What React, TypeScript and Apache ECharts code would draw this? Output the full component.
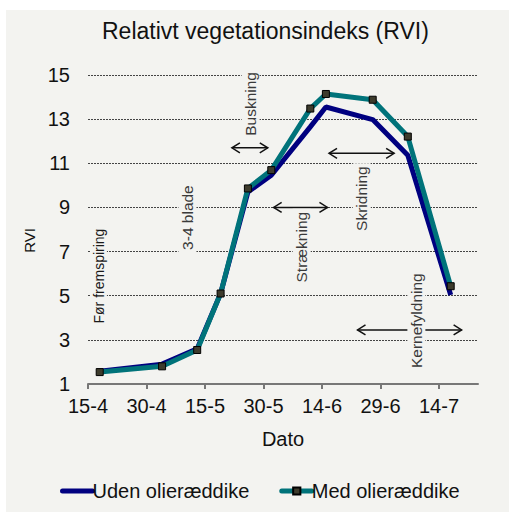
import React, { useEffect, useRef } from 'react';
import * as echarts from 'echarts';

// ---- data ----
const xTickLabels = ['15-4', '30-4', '15-5', '30-5', '14-6', '29-6', '14-7'];
const axisStartDate = '15-4';
const axisEndDate = '24-7';
const dates = ['18-4', '4-5', '13-5', '19-5', '26-5', '1-6', '11-6', '15-6', '27-6', '6-7', '17-7'];
const udenValues = [1.58, 1.9, 2.6, 5.1, 9.7, 10.46, 12.65, 13.55, 12.98, 11.36, 5.03];
const medValues = [1.54, 1.8, 2.54, 5.1, 9.86, 10.69, 13.48, 14.14, 13.88, 12.21, 5.43];
const yTickValues = [1, 3, 5, 7, 9, 11, 13, 15];

// growth-phase annotations (data coordinates: day offset / RVI)
const arrowStarts = [36.9, 47.6, 61.8, 69.1];
const arrowEnds = [46.1, 61.4, 78.5, 95.8];
const arrowLevels = [11.7, 9.0, 11.45, 3.45];
const phaseLabels = ['Før fremspiring', '3-4 blade', 'Buskning', 'Strækning', 'Skridning', 'Kernefyldning'];
const phaseLabelX = [2.8, 25.5, 41.7, 54.8, 70.2, 84.2];
const phaseLabelY = [5.89, 8.54, 13.69, 7.2, 9.4, 3.87];

function dayOffset(s: string): number {
  const [d, m] = s.split('-').map(Number);
  const [d0, m0] = axisStartDate.split('-').map(Number);
  return Math.round((Date.UTC(2000, m - 1, d) - Date.UTC(2000, m0 - 1, d0)) / 86400000);
}

const FONT = "'Liberation Sans', Arial, sans-serif";
const BG = '#f3f3f0';

export default function App() {
  const ref = useRef<HTMLDivElement>(null);

  useEffect(() => {
    if (!ref.current) return;
    const chart = echarts.init(ref.current, undefined, { renderer: 'svg' });
    const tickValues = xTickLabels.map(dayOffset);

    const option: any = {
      animation: false,
      backgroundColor: BG,
      textStyle: { fontFamily: FONT },
      title: {
        text: 'Relativt vegetationsindeks (RVI)',
        left: 96,
        top: 9,
        padding: 0,
        textStyle: { fontSize: 23, fontWeight: 'normal', color: '#111', fontFamily: FONT },
      },
      grid: { left: 82, right: 31, top: 65, bottom: 128, containLabel: false },
      legend: {
        data: [
          { name: 'Uden olieræddike', itemStyle: { opacity: 0 } },
          { name: 'Med olieræddike' },
        ],
        left: 54,
        top: 471,
        padding: 0,
        itemWidth: 30,
        itemHeight: 9,
        itemGap: 30,
        lineStyle: { width: 5, cap: 'round' },
        textStyle: { fontSize: 20, color: '#111', fontFamily: FONT, padding: [0, 0, 0, -5] },
      },
      xAxis: {
        type: 'value',
        min: 0,
        max: dayOffset(axisEndDate),
        interval: 15,
        name: 'Dato',
        nameLocation: 'middle',
        nameGap: 45,
        nameTextStyle: { fontSize: 20, color: '#111', fontFamily: FONT },
        axisLine: { show: true, lineStyle: { color: '#777', width: 2 } },
        axisTick: { show: true, length: 5, lineStyle: { color: '#777', width: 2 }, customValues: tickValues },
        axisLabel: {
          fontSize: 20,
          color: '#111',
          margin: 12,
          customValues: tickValues,
          formatter: (v: number) => {
            const i = tickValues.indexOf(Math.round(v));
            return i >= 0 ? xTickLabels[i] : '';
          },
        },
        splitLine: { show: false },
      },
      yAxis: {
        type: 'value',
        min: yTickValues[0],
        max: yTickValues[yTickValues.length - 1],
        interval: 2,
        name: 'RVI',
        nameLocation: 'middle',
        nameGap: 50,
        nameTextStyle: { fontSize: 15, color: '#111', fontFamily: FONT, padding: [0, 22, 0, 0] },
        axisLine: { show: false },
        axisTick: { show: false },
        axisLabel: { fontSize: 20, color: '#111', margin: 18 },
        splitLine: { show: true, lineStyle: { color: '#444', width: 1, type: [2, 1] } },
      },
      series: [
        {
          name: 'Uden olieræddike',
          type: 'line',
          data: dates.map((d, i) => [dayOffset(d), udenValues[i]]),
          symbol: 'none',
          lineStyle: { color: '#000080', width: 5 },
          itemStyle: { color: '#000080' },
          z: 2,
          silent: true,
        },
        {
          name: 'Med olieræddike',
          type: 'line',
          data: dates.map((d, i) => [dayOffset(d), medValues[i]]),
          symbol: 'rect',
          symbolSize: 7,
          lineStyle: { color: '#00737a', width: 5 },
          itemStyle: { color: '#3d3b2c', borderColor: '#000', borderWidth: 1 },
          z: 3,
          silent: true,
        },
        {
          type: 'custom',
          silent: true,
          z: 4,
          data: arrowStarts.map((s, i) => [s, arrowEnds[i], arrowLevels[i]]),
          encode: { x: [0, 1], y: 2 },
          renderItem: (_p: any, api: any) => {
            const a = api.coord([api.value(0), api.value(2)]);
            const b = api.coord([api.value(1), api.value(2)]);
            const h = 8;
            const w = 5;
            const st = { stroke: '#111', lineWidth: 1.5, fill: 'none' };
            return {
              type: 'group',
              children: [
                { type: 'line', shape: { x1: a[0], y1: a[1], x2: b[0], y2: b[1] }, style: st },
                { type: 'polyline', shape: { points: [[a[0] + h, a[1] - w], [a[0], a[1]], [a[0] + h, a[1] + w]] }, style: st },
                { type: 'polyline', shape: { points: [[b[0] - h, b[1] - w], [b[0], b[1]], [b[0] - h, b[1] + w]] }, style: st },
              ],
            };
          },
        },
        {
          type: 'custom',
          silent: true,
          z: 5,
          data: phaseLabelX.map((x, i) => [x, phaseLabelY[i]]),
          encode: { x: 0, y: 1 },
          renderItem: (p: any, api: any) => {
            const c = api.coord([api.value(0), api.value(1)]);
            return {
              type: 'text',
              x: c[0],
              y: c[1],
              rotation: Math.PI / 2,
              style: {
                text: phaseLabels[p.dataIndex],
                fill: p.dataIndex === 0 ? '#1a1a1a' : '#3a3a3a',
                fontSize: p.dataIndex === 0 ? 14 : 15.5,
                fontFamily: FONT,
                align: 'center',
                verticalAlign: 'middle',
                backgroundColor: BG,
                padding: [1, 3],
              },
            };
          },
        },
      ],
    };

    chart.setOption(option);
    return () => chart.dispose();
  }, []);

  return (
    <div style={{ position: 'absolute', left: 0, top: 0, width: 509, height: 512, background: '#fff' }}>
      <div ref={ref} style={{ position: 'absolute', left: 6, top: 10, width: 503, height: 502 }} />
    </div>
  );
}
